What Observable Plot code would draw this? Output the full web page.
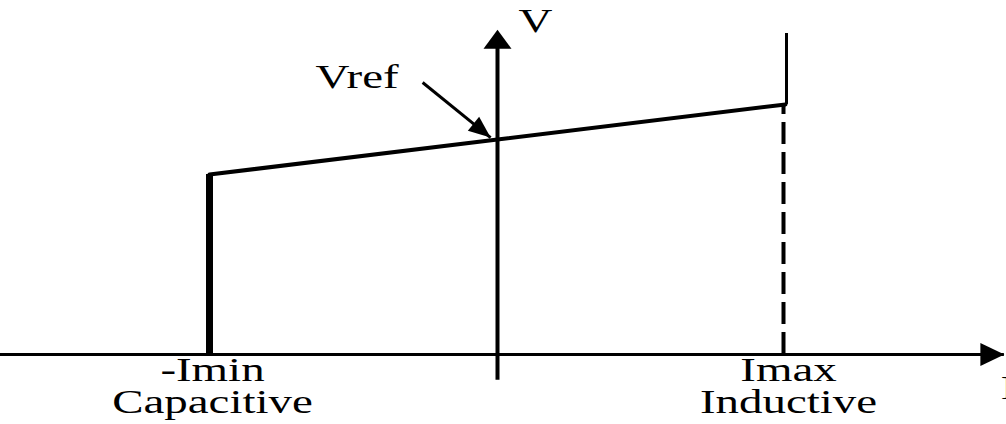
<!DOCTYPE html>
<html>
<head>
<meta charset="utf-8">
<script src="https://cdn.jsdelivr.net/npm/d3@7"></script>
<script src="https://cdn.jsdelivr.net/npm/@observablehq/plot@0.6"></script>
<style>
  html, body { margin: 0; padding: 0; background: #fff; }
  #chart svg { display: block; }
</style>
</head>
<body>
<div id="chart"></div>
<script>
// ---- data (current I in units of Imax, voltage V in units of Vref) ----
const currents = [-1, 0, 1];            // -Imin, 0, Imax
const voltages = [0.837, 1.0, 1.163];   // V-I characteristic slope
const imaxTopV = 1.493;                 // top of vertical line at Imax
const xAxisExtent = [-1.73, 1.76];      // horizontal axis (I)
const yAxisExtent = [-0.12, 1.51];      // vertical axis (V)
const vrefArrowTail = {I: -0.26, V: 1.265};
const vrefArrowTip = {I: -0.024, V: 1.009};
const axisLabels = ["V", "I"];
const bottomLabels = ["-Imin\nCapacitive", "Imax\nInductive"];
const vrefLabel = "Vref";

const slope = currents.map((I, i) => ({I, V: voltages[i]}));

// filled triangle arrowhead, tip at origin, pointing up
const head = (len, wid) => ({
  draw(ctx) {
    ctx.moveTo(0, 0);
    ctx.lineTo(wid / 2, len);
    ctx.lineTo(-wid / 2, len);
    ctx.closePath();
  }
});

const font = "'Liberation Serif', 'Times New Roman', serif";

const chart = Plot.plot({
  width: 1006,
  height: 424,
  margin: 0,
  x: {domain: [-497 / 288, 509 / 288], axis: null},
  y: {domain: [-70 / 215, 354 / 215], axis: null},
  style: {fontFamily: font, background: "#fff", color: "#000"},
  marks: [
    // axes
    Plot.ruleY([0], {x1: xAxisExtent[0], x2: xAxisExtent[1], stroke: "#000", strokeWidth: 3}),
    Plot.ruleX([0], {y1: yAxisExtent[0], y2: yAxisExtent[1] - 0.04, stroke: "#000", strokeWidth: 4}),
    Plot.dot([{I: xAxisExtent[1], V: 0}], {x: "I", y: "V", symbol: head(24, 23), rotate: 90, fill: "#000", stroke: null}),
    Plot.dot([{I: 0, V: yAxisExtent[1]}], {x: "I", y: "V", symbol: head(19, 28), fill: "#000", stroke: null}),
    // characteristic
    Plot.ruleX([currents[0]], {y1: 0, y2: voltages[0], stroke: "#000", strokeWidth: 7}),
    Plot.line(slope, {x: "I", y: "V", stroke: "#000", strokeWidth: 4, strokeLinejoin: "miter"}),
    Plot.ruleX([currents[2]], {y1: 0, y2: voltages[2], stroke: "#000", strokeWidth: 4, strokeDasharray: "22,8", dx: -2}),
    Plot.ruleX([currents[2]], {y1: voltages[2], y2: imaxTopV, stroke: "#000", strokeWidth: 3, dx: 1}),
    // Vref arrow
    Plot.link([{}], {x1: () => vrefArrowTail.I, y1: () => vrefArrowTail.V, x2: () => vrefArrowTip.I, y2: () => vrefArrowTip.V, stroke: "#000", strokeWidth: 3}),
    Plot.dot([vrefArrowTip], {x: "I", y: "V", symbol: head(22, 18), rotate: 129, fill: "#000", stroke: null}),
    // labels
    Plot.text([vrefLabel], {x: () => vrefArrowTail.I, y: () => vrefArrowTail.V, textAnchor: "end", lineAnchor: "bottom", dx: -24, dy: 5, fontSize: 34, fill: "#000"}),
    Plot.text([axisLabels[0]], {x: () => 0, y: () => yAxisExtent[1], lineAnchor: "bottom", dx: 38, dy: 2, fontSize: 34, fill: "#000"}),
    Plot.text([axisLabels[1]], {x: () => xAxisExtent[1], y: () => 0, lineAnchor: "bottom", dx: 4, dy: 44, fontSize: 34, fill: "#000"}),
    Plot.text(bottomLabels, {x: (d, i) => [currents[0], currents[2]][i], y: () => 0, lineAnchor: "bottom", lineHeight: 0.94, dx: 3, dy: 58, fontSize: 34, fill: "#000"})
  ]
});

document.getElementById("chart").appendChild(chart);

// the reference typeface is horizontally stretched
d3.select(chart).selectAll("g[aria-label=text] text").each(function () {
  const t = this.getAttribute("transform") || "";
  this.setAttribute("transform", t + " scale(1.38,1)");
});
</script>
</body>
</html>
